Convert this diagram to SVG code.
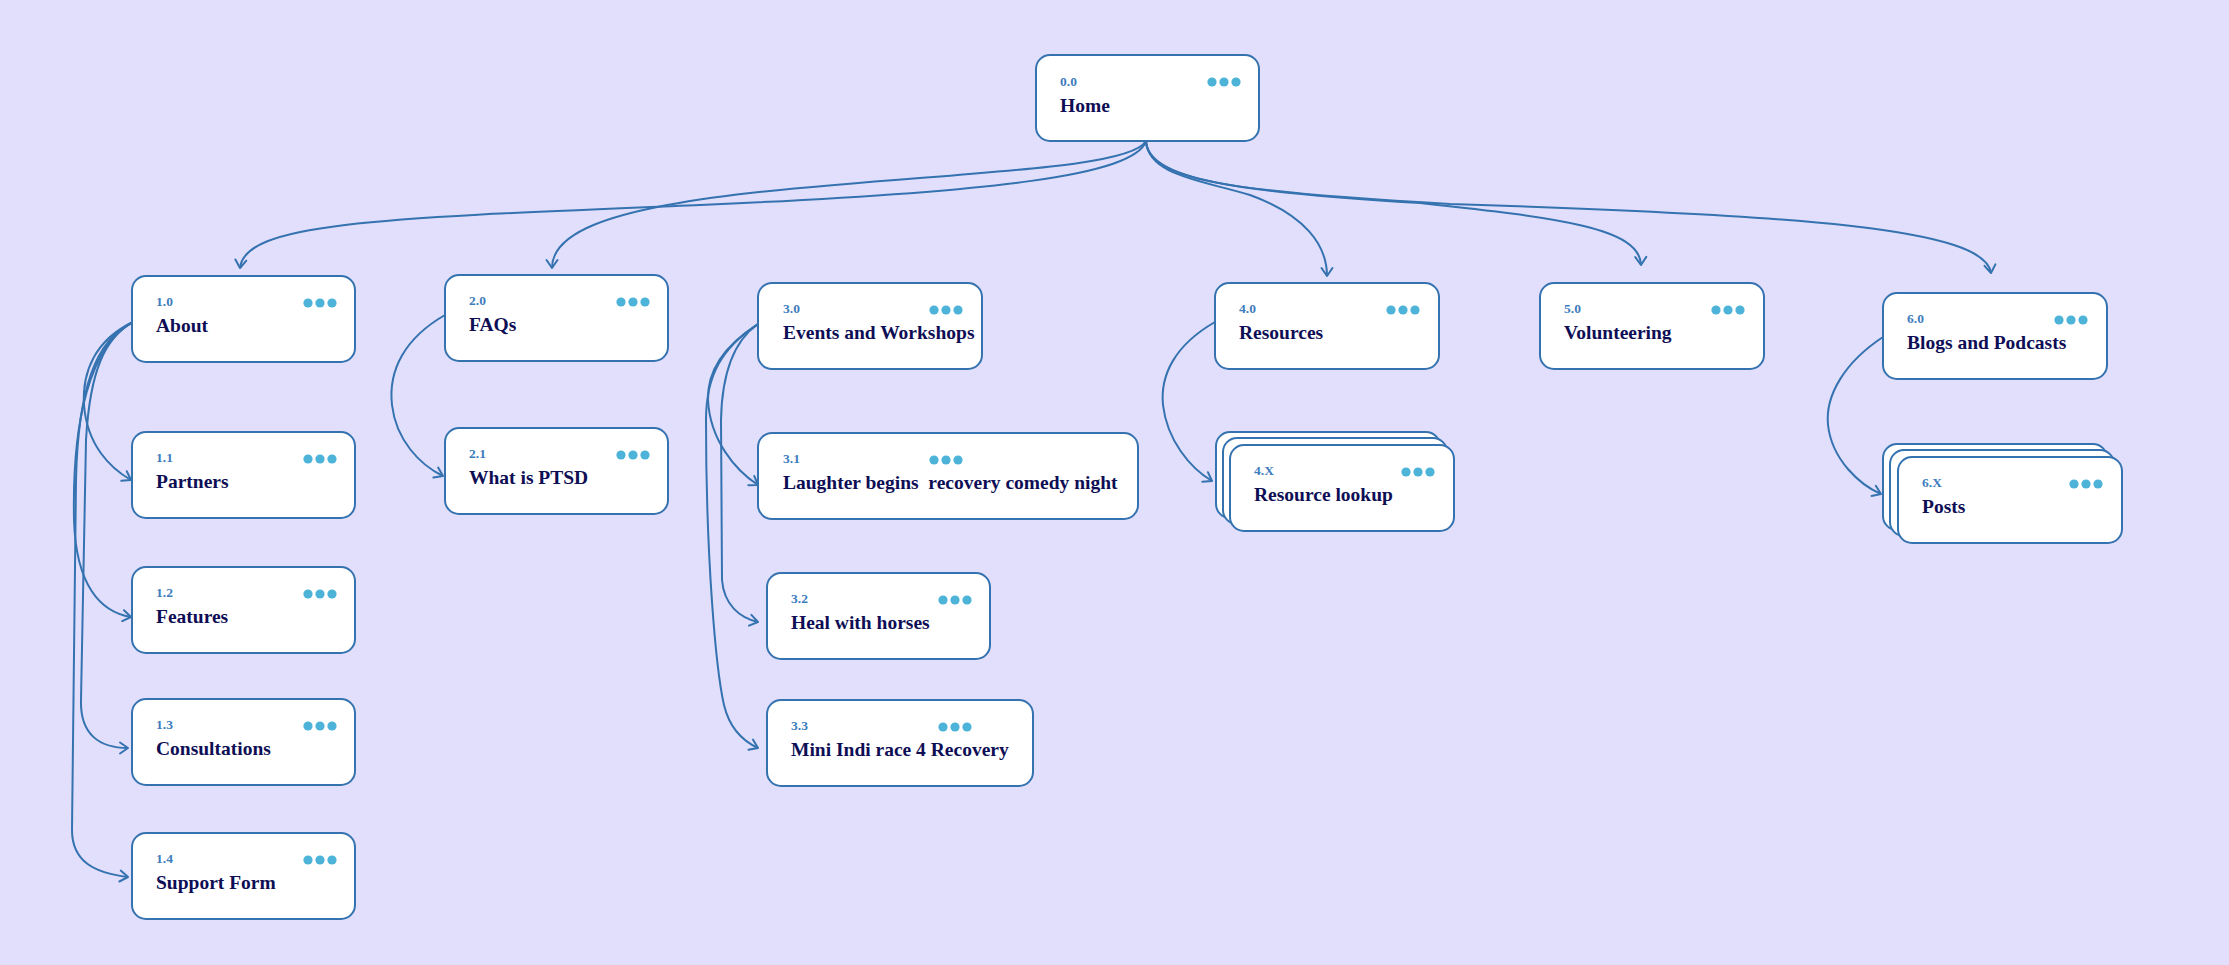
<svg xmlns="http://www.w3.org/2000/svg" xmlns:xlink="http://www.w3.org/1999/xlink" width="2229" height="965" viewBox="0 0 2229 965">
<style>
.box{fill:#ffffff;stroke:#3572b0;stroke-width:2}
.num{font-family:"Liberation Serif","Times New Roman",serif;font-weight:bold;font-size:13.5px;fill:#3d7dbd}
.title{font-family:"Liberation Serif","Times New Roman",serif;font-weight:bold;font-size:19.5px;fill:#0e0e55}
.dot{fill:#4db3d9}
.conn{fill:none;stroke:#3572b0;stroke-width:2;marker-end:url(#arr)}
</style>
<defs>
<marker id="arr" markerUnits="userSpaceOnUse" markerWidth="14" markerHeight="14" refX="10" refY="7" orient="auto">
<path d="M2,1.5 L10,7 L2,12.5" fill="none" stroke="#3572b0" stroke-width="2" stroke-linecap="round" stroke-linejoin="round"/>
</marker>
<g id="dots">
<circle class="dot" cx="176" cy="27" r="4.6"/>
<circle class="dot" cx="188" cy="27" r="4.6"/>
<circle class="dot" cx="200" cy="27" r="4.6"/>
</g>
</defs>
<rect x="0" y="0" width="2229" height="965" fill="#e1dffb"/>
<g id="connectors">
<path class="conn" d="M1146,141 C1135,175 1000,192 700,205 C380,218 245,222 240,268"/>
<path class="conn" d="M1146,141 C1130,170 950,172 750,193 C600,210 552,235 552,268"/>
<path class="conn" d="M1146,141 C1148,175 1200,180 1250,195 C1305,215 1327,245 1327,276"/>
<path class="conn" d="M1146,141 C1148,178 1230,192 1420,203 C1560,218 1640,228 1641,265"/>
<path class="conn" d="M1146,141 C1148,180 1230,192 1450,204 C1800,215 1985,228 1991,273"/>
<path class="conn" d="M133,322 C95,340 82,372 84,405 C87,445 110,468 131,480"/>
<path class="conn" d="M133,322 C90,345 72,420 74,520 C76,585 100,612 131,617"/>
<path class="conn" d="M133,322 C105,338 90,370 86,440 L81,700 C80,735 100,748 128,748"/>
<path class="conn" d="M133,322 C95,340 78,390 76,480 L72,830 C72,862 95,873 128,877"/>
<path class="conn" d="M445,315 C405,338 388,370 392,405 C396,440 420,465 443,476"/>
<path class="conn" d="M758,324 C725,345 707,370 708,400 C710,440 735,470 758,485"/>
<path class="conn" d="M758,324 C735,340 722,370 721,420 L722,580 C724,605 740,618 758,622"/>
<path class="conn" d="M758,324 C722,348 706,375 706,420 C706,560 716,670 724,705 C730,730 745,742 758,748"/>
<path class="conn" d="M1215,322 C1175,345 1160,375 1163,405 C1167,440 1190,468 1212,481"/>
<path class="conn" d="M1883,337 C1845,362 1825,395 1828,425 C1832,460 1860,485 1881,494"/>
</g>
<g id="n0">
<rect class="box" x="1036" y="55" width="223" height="86" rx="14"/>
<use xlink:href="#dots" href="#dots" transform="translate(1036,55)"/>
<text class="num" x="1060" y="86">0.0</text>
<text class="title" x="1060" y="112">Home</text>
</g>
<g id="n1_0">
<rect class="box" x="132" y="276" width="223" height="86" rx="14"/>
<use href="#dots" transform="translate(132,276)"/>
<text class="num" x="156" y="306">1.0</text>
<text class="title" x="156" y="332">About</text>
</g>
<g id="n1_1">
<rect class="box" x="132" y="432" width="223" height="86" rx="14"/>
<use href="#dots" transform="translate(132,432)"/>
<text class="num" x="156" y="462">1.1</text>
<text class="title" x="156" y="488">Partners</text>
</g>
<g id="n1_2">
<rect class="box" x="132" y="567" width="223" height="86" rx="14"/>
<use href="#dots" transform="translate(132,567)"/>
<text class="num" x="156" y="597">1.2</text>
<text class="title" x="156" y="623">Features</text>
</g>
<g id="n1_3">
<rect class="box" x="132" y="699" width="223" height="86" rx="14"/>
<use href="#dots" transform="translate(132,699)"/>
<text class="num" x="156" y="729">1.3</text>
<text class="title" x="156" y="755">Consultations</text>
</g>
<g id="n1_4">
<rect class="box" x="132" y="833" width="223" height="86" rx="14"/>
<use href="#dots" transform="translate(132,833)"/>
<text class="num" x="156" y="863">1.4</text>
<text class="title" x="156" y="889">Support Form</text>
</g>
<g id="n2_0">
<rect class="box" x="445" y="275" width="223" height="86" rx="14"/>
<use href="#dots" transform="translate(445,275)"/>
<text class="num" x="469" y="305">2.0</text>
<text class="title" x="469" y="331">FAQs</text>
</g>
<g id="n2_1">
<rect class="box" x="445" y="428" width="223" height="86" rx="14"/>
<use href="#dots" transform="translate(445,428)"/>
<text class="num" x="469" y="458">2.1</text>
<text class="title" x="469" y="484">What is PTSD</text>
</g>
<g id="n3_0">
<rect class="box" x="758" y="283" width="224" height="86" rx="14"/>
<use href="#dots" transform="translate(758,283)"/>
<text class="num" x="783" y="313">3.0</text>
<text class="title" x="783" y="339">Events and Workshops</text>
</g>
<g id="n3_1">
<rect class="box" x="758" y="433" width="380" height="86" rx="14"/>
<use href="#dots" transform="translate(758,433)"/>
<text class="num" x="783" y="463">3.1</text>
<text class="title" x="783" y="489">Laughter begins&#160; recovery comedy night</text>
</g>
<g id="n3_2">
<rect class="box" x="767" y="573" width="223" height="86" rx="14"/>
<use href="#dots" transform="translate(767,573)"/>
<text class="num" x="791" y="603">3.2</text>
<text class="title" x="791" y="629">Heal with horses</text>
</g>
<g id="n3_3">
<rect class="box" x="767" y="700" width="266" height="86" rx="14"/>
<use href="#dots" transform="translate(767,700)"/>
<text class="num" x="791" y="730">3.3</text>
<text class="title" x="791" y="756">Mini Indi race 4 Recovery</text>
</g>
<g id="n4_0">
<rect class="box" x="1215" y="283" width="224" height="86" rx="14"/>
<use href="#dots" transform="translate(1215,283)"/>
<text class="num" x="1239" y="313">4.0</text>
<text class="title" x="1239" y="339">Resources</text>
</g>
<g id="n4_x">
<rect class="box" x="1216" y="432" width="224" height="86" rx="14"/>
<rect class="box" x="1223" y="438" width="224" height="86" rx="14"/>
<rect class="box" x="1230" y="445" width="224" height="86" rx="14"/>
<use href="#dots" transform="translate(1230,445)"/>
<text class="num" x="1254" y="475">4.X</text>
<text class="title" x="1254" y="501">Resource lookup</text>
</g>
<g id="n5_0">
<rect class="box" x="1540" y="283" width="224" height="86" rx="14"/>
<use href="#dots" transform="translate(1540,283)"/>
<text class="num" x="1564" y="313">5.0</text>
<text class="title" x="1564" y="339">Volunteering</text>
</g>
<g id="n6_0">
<rect class="box" x="1883" y="293" width="224" height="86" rx="14"/>
<use href="#dots" transform="translate(1883,293)"/>
<text class="num" x="1907" y="323">6.0</text>
<text class="title" x="1907" y="349">Blogs and Podcasts</text>
</g>
<g id="n6_x">
<rect class="box" x="1883" y="444" width="224" height="86" rx="14"/>
<rect class="box" x="1890" y="450" width="224" height="86" rx="14"/>
<rect class="box" x="1898" y="457" width="224" height="86" rx="14"/>
<use href="#dots" transform="translate(1898,457)"/>
<text class="num" x="1922" y="487">6.X</text>
<text class="title" x="1922" y="513">Posts</text>
</g>
</svg>
